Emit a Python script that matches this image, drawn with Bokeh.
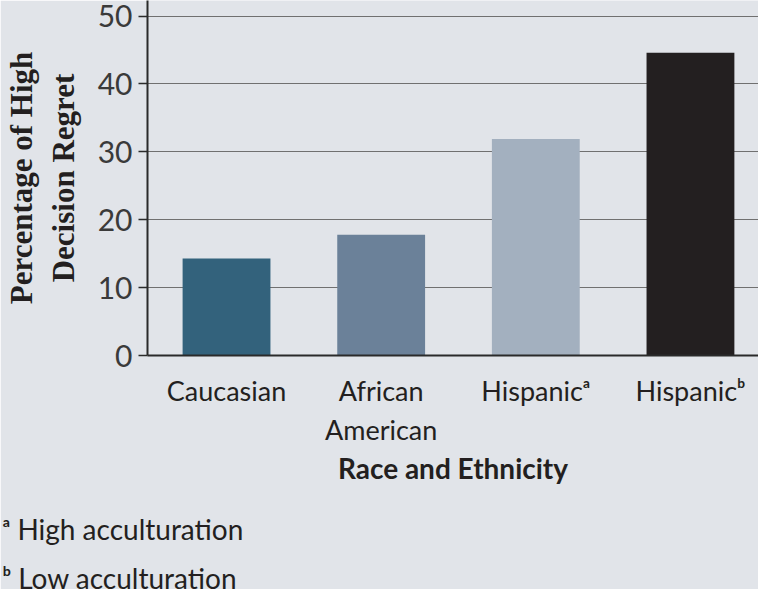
from bokeh.plotting import figure
from bokeh.models import ColumnDataSource, Range1d, FixedTicker, Title
from bokeh.embed import file_html
from bokeh.resources import INLINE

categories = ["Caucasian", "African\nAmerican", "Hispanic\u1d43", "Hispanic\u1d47"]
values = [14.3, 17.8, 31.9, 44.6]
colors = ["#33627c", "#6b8199", "#a3b0bf", "#231f20"]
y_ticks = [0, 10, 20, 30, 40, 50]
footnotes = ["\u1d43 High acculturation", "\u1d47 Low acculturation"]

BG = "#e1e4e9"
TXT = "#231f20"
SANS = "Lato"

src = ColumnDataSource(dict(x=list(range(len(categories))), top=values, color=colors))

p = figure(width=758, height=589, output_backend="svg", toolbar_location=None,
           x_range=Range1d(-0.511, 3.44), y_range=Range1d(0, 52.3),
           min_border_left=146, min_border_right=0, min_border_top=0, min_border_bottom=234)
p.background_fill_color = BG
p.border_fill_color = BG
p.outline_line_color = None

p.vbar(x="x", top="top", width=0.568, source=src, fill_color="color", line_color=None)

p.xgrid.visible = False
p.ygrid.grid_line_color = "#707070"
p.ygrid.grid_line_width = 1
p.ygrid.ticker = FixedTicker(ticks=y_ticks)

# y axis
p.yaxis.ticker = FixedTicker(ticks=y_ticks)
p.yaxis.axis_line_color = "#2a2a2a"
p.yaxis.axis_line_width = 2
p.yaxis.major_tick_line_color = "#2a2a2a"
p.yaxis.major_tick_line_width = 1.5
p.yaxis.major_tick_out = 9
p.yaxis.major_tick_in = 0
p.yaxis.minor_tick_line_color = None
p.yaxis.major_label_text_font = SANS
p.yaxis.major_label_text_font_size = "30px"
p.yaxis.major_label_text_color = "#3a3a3a"
p.yaxis.major_label_standoff = 6
p.yaxis.axis_label = "Percentage of High\nDecision Regret"
p.yaxis.axis_label_text_font = "Liberation Serif"
p.yaxis.axis_label_text_font_style = "bold"
p.yaxis.axis_label_text_font_size = "31px"
p.yaxis.axis_label_text_color = TXT
p.yaxis.axis_label_standoff = 14

# x axis
p.xaxis.ticker = FixedTicker(ticks=list(range(len(categories))))
p.xaxis.major_label_overrides = {i: c for i, c in enumerate(categories)}
p.xaxis.axis_line_color = "#2a2a2a"
p.xaxis.axis_line_width = 2
p.xaxis.major_tick_line_color = None
p.xaxis.minor_tick_line_color = None
p.xaxis.major_tick_out = 0
p.xaxis.major_label_text_font = SANS
p.xaxis.major_label_text_font_size = "27px"
p.xaxis.major_label_text_color = TXT
p.xaxis.major_label_standoff = 18
p.xaxis.axis_label = "Race and Ethnicity"
p.xaxis.axis_label_text_font = SANS
p.xaxis.axis_label_text_font_style = "bold"
p.xaxis.axis_label_text_font_size = "28px"
p.xaxis.axis_label_text_color = TXT
p.xaxis.axis_label_standoff = 2

# footnotes
for i, txt in enumerate(footnotes):
    t = Title(text=txt, align="left", offset=-145, text_font=SANS,
              text_font_size="28px", text_font_style="normal", text_color=TXT,
              standoff=43 if i == 0 else -18)
    p.add_layout(t, "below")

open("out.html", "w").write(file_html(p, INLINE))
